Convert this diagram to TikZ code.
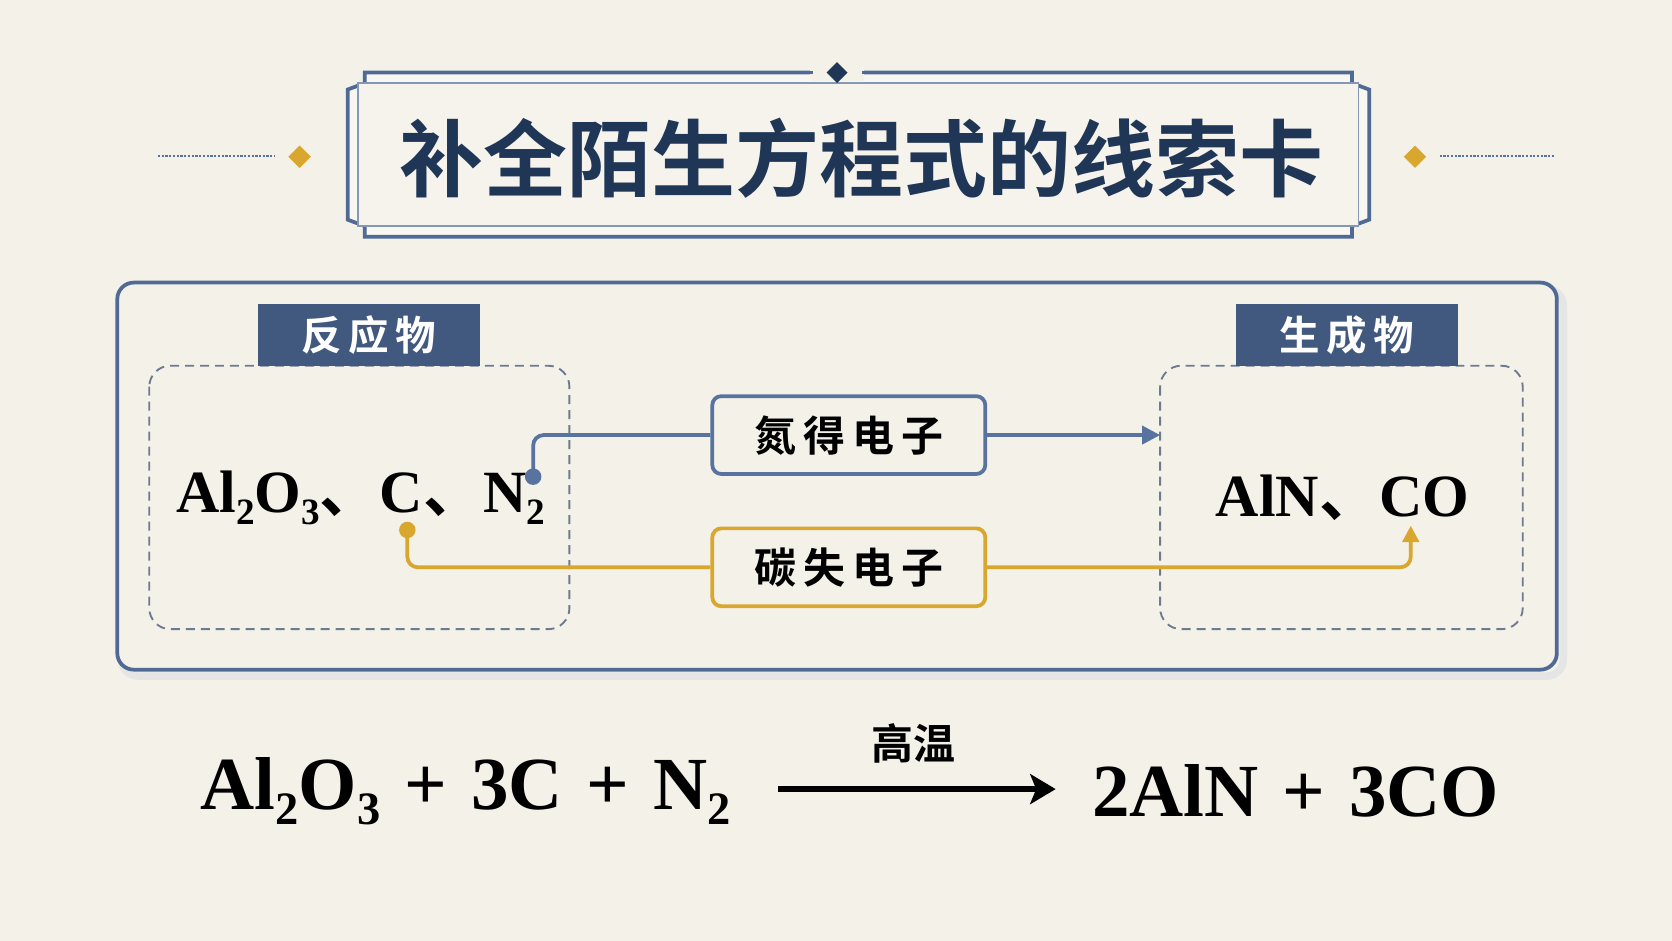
\documentclass[tikz,border=0pt]{standalone}
\usepackage{fontspec}
\setmainfont{Liberation Serif}
\newfontfamily\cjk{Noto Sans CJK SC}[BoldFont={* Bold}]
\usetikzlibrary{arrows.meta,shapes.geometric}
\newcommand\chsub[1]{\raisebox{-0.2em}{\scalebox{0.62}{#1}}}
\newcommand\dun{{\cjk\bfseries 、}}
\newcommand\pl{\hspace{0.07em}+\hspace{0.07em}}
\definecolor{bg}{HTML}{F3F1E8}
\definecolor{navy}{HTML}{1F3657}
\definecolor{steel}{HTML}{5873A0}
\definecolor{tab}{HTML}{41597E}
\definecolor{gold}{HTML}{D9A62E}
\definecolor{frame}{HTML}{4F6A94}
\definecolor{dgray}{HTML}{6E7A90}
\tikzset{
  px/.style={x=0.05cm,y=-0.05cm},
  tabs/.style={fill=tab,text=white,font=\cjk\bfseries\fontsize{54}{60}\selectfont,minimum width=208*0.05cm,minimum height=58*0.05cm,inner sep=0pt},
  clue/.style={draw,line width=5pt,rounded corners=12pt,fill=bg,minimum width=256*0.05cm,minimum height=73*0.05cm,font=\cjk\bfseries\fontsize{56}{60}\selectfont,text=black},
  dbox/.style={draw=dgray,dashed,dash pattern=on 12pt off 8pt,line width=2.5pt,rounded corners=28pt},
  chem/.style={font=\bfseries\fontsize{80}{100}\selectfont},
  eq/.style={font=\bfseries\fontsize{100}{110}\selectfont},
  conn/.style={line width=5pt,rounded corners=14pt},
}
\begin{document}
\begin{tikzpicture}[px]
\useasboundingbox (0,0) rectangle (1568,882);
\fill[bg] (0,0) rectangle (1568,882);
% title frame
\draw[frame,line width=5pt,fill=bg!60!white] (342,68)--(1268,68)--(1268,78)--(1284,84)--(1284,206)--(1268,212)--(1268,222)--(342,222)--(342,212)--(326,206)--(326,84)--(342,78)--cycle;
\draw[frame!70,line width=2.5pt,fill=bg!85!white] (336,78) rectangle (1274,212);
\fill[bg] (760,60) rectangle (810,76);
\node[diamond,fill=navy,minimum size=28pt,inner sep=0pt] (topd) at (785,68) {};
\draw[frame,line width=5pt] (740,68)--(762,68) (808,68)--(830,68);
\node[font=\cjk\bfseries\fontsize{112}{120}\selectfont,text=navy] (title) at (808,148) {补全陌生方程式的线索卡};
\draw[steel,dotted,line width=3pt] (148,146)--(258,146) (1350,146)--(1458,146);
\node[diamond,fill=gold,minimum size=30pt,inner sep=0pt] (ld) at (281,147) {};
\node[diamond,fill=gold,minimum size=30pt,inner sep=0pt] (rd) at (1327,147) {};
% panel
\draw[line width=10pt,black!10,rounded corners=22pt] (114,271) rectangle (1466,634);
\draw[frame,line width=5pt,fill=bg,rounded corners=22pt] (110,265) rectangle (1460,628);
\draw[dbox] (140,343) rectangle (534,590);
\draw[dbox] (1088,343) rectangle (1428,590);
\node[tabs] (t1) at (346,314) {反\,应\,物};
\node[tabs] (t2) at (1263,314) {生\,成\,物};
\node[chem,anchor=west,inner sep=0pt] (re) at (165,467) {Al\chsub{2}O\chsub{3}\dun C\dun N\chsub{2}};
\node[chem,anchor=west,inner sep=0pt] (pr) at (1140,467) {AlN\dun CO};
\coordinate (nd) at (500,447);
\coordinate (cd) at (382,497);
\coordinate (na) at (1088,408);
\coordinate (ca) at (1323,493);
\node[clue,draw=steel] (b1) at (796,408) {氮\,得\,电\,子};
\node[clue,draw=gold] (b2) at (796,532) {碳\,失\,电\,子};
\draw[conn,steel] (nd)--(500,408)--(b1.west);
\draw[conn,steel,-{Triangle[length=24pt,width=24pt]}] (b1.east)--(na);
\draw[conn,gold] (cd)--(382,532)--(b2.west);
\draw[conn,gold,-{Triangle[length=22pt,width=22pt]}] (b2.east)--(1323,532)--(ca);
\fill[steel] (nd) circle (11pt);
\fill[gold] (cd) circle (11pt);
% equation
\node[eq,anchor=west,inner sep=0pt] (lhs) at (188,742) {Al\chsub{2}O\chsub{3} \pl{} 3C \pl{} N\chsub{2}};
\node[eq,anchor=west,inner sep=0pt] (rhs) at (1024,742) {2AlN \pl{} 3CO};
\coordinate (a1) at (730,740);
\coordinate (a2) at (990,740);
\draw[line width=7pt,-{Stealth[length=34pt,width=40pt,inset=8pt]}] (a1)--(a2);
\node[font=\cjk\bfseries\fontsize{56}{60}\selectfont] (cond) at (857,697) {高温};
\end{tikzpicture}
\end{document}
